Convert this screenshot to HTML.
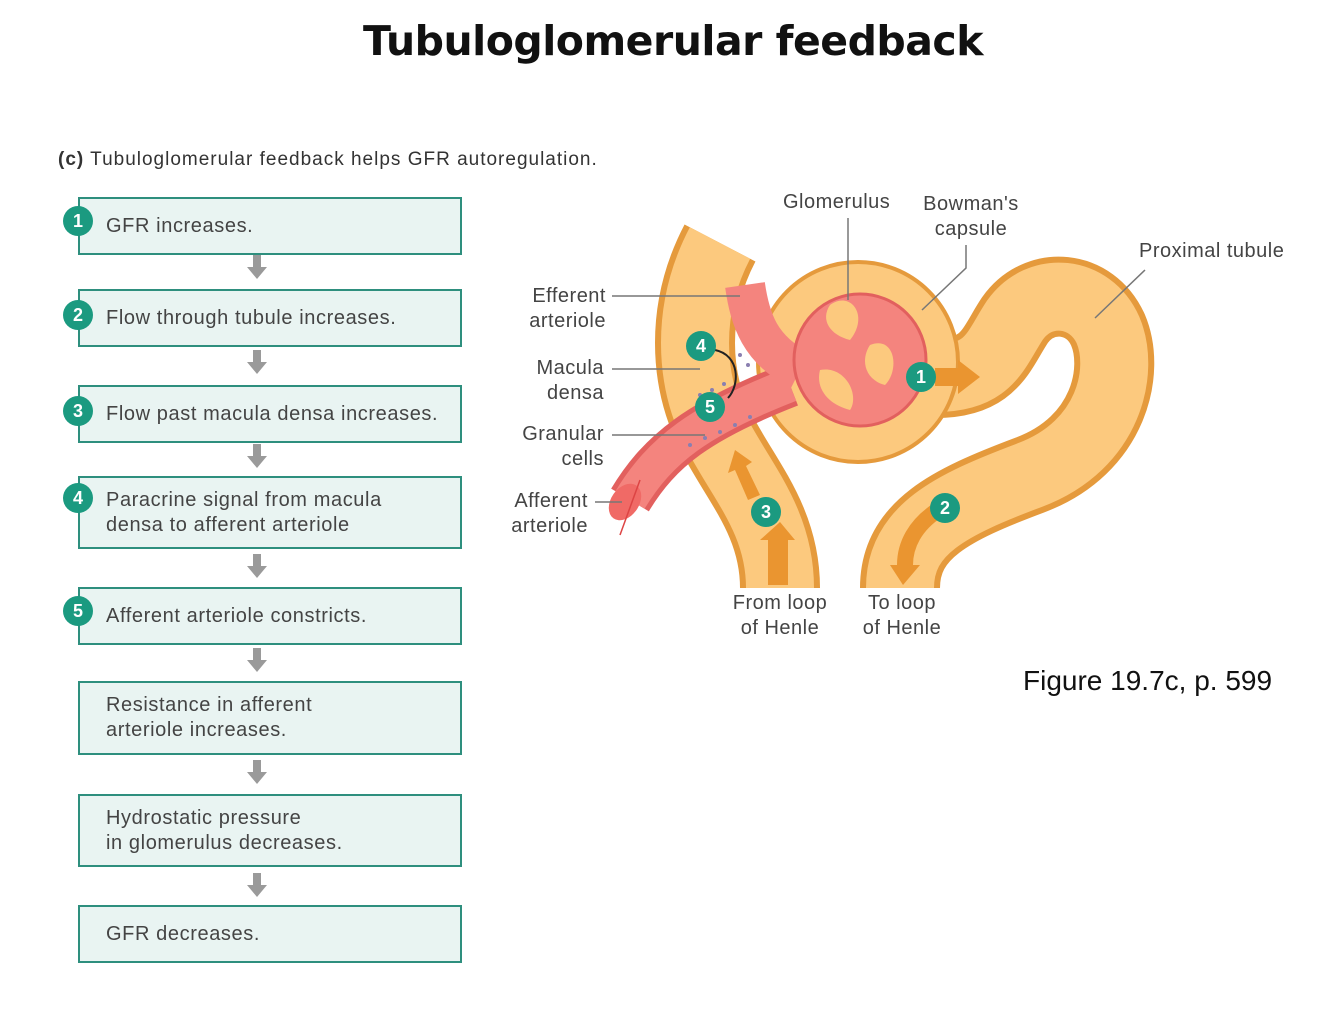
<!DOCTYPE html>
<html><head><meta charset="utf-8"><style>
body{margin:0;width:1334px;height:1029px;background:#fff;position:relative;overflow:hidden;font-family:"Liberation Sans",sans-serif}
.t{position:absolute;left:0;width:1346px;top:17px;text-align:center;font-size:41px;font-weight:bold;color:#111;font-family:"DejaVu Sans","Liberation Sans",sans-serif;letter-spacing:-0.5px}
.sub{position:absolute;left:58px;top:149px;font-size:19px;color:#333;letter-spacing:1px}
.box{position:absolute;left:78px;width:384px;border:2.5px solid #2e8f7e;background:#e9f4f2;color:#444;font-size:20px;box-sizing:border-box;padding-left:26px;display:flex;align-items:center;line-height:25px;letter-spacing:0.6px}
.b{position:absolute;width:30px;height:30px;border-radius:50%;background:#1b9a80;color:#fff;font-weight:bold;font-size:18px;text-align:center;line-height:30px}
.lab{position:absolute;font-size:20px;color:#444;line-height:25px;letter-spacing:0.5px}
.fig{position:absolute;left:1023px;top:665px;font-size:28px;color:#111}
</style></head><body>
<div class="t">Tubuloglomerular feedback</div>
<div class="sub"><b>(c)</b> Tubuloglomerular feedback helps GFR autoregulation.</div>

<div class="box" style="top:197px;height:58px">GFR increases.</div>
<div class="box" style="top:289px;height:58px">Flow through tubule increases.</div>
<div class="box" style="top:385px;height:58px">Flow past macula densa increases.</div>
<div class="box" style="top:476px;height:73px">Paracrine signal from macula<br>densa to afferent arteriole</div>
<div class="box" style="top:587px;height:58px">Afferent arteriole constricts.</div>
<div class="box" style="top:681px;height:74px">Resistance in afferent<br>arteriole increases.</div>
<div class="box" style="top:794px;height:73px">Hydrostatic pressure<br>in glomerulus decreases.</div>
<div class="box" style="top:905px;height:58px">GFR decreases.</div>

<div class="b" style="left:63px;top:206px">1</div>
<div class="b" style="left:63px;top:300px">2</div>
<div class="b" style="left:63px;top:396px">3</div>
<div class="b" style="left:63px;top:483px">4</div>
<div class="b" style="left:63px;top:596px">5</div>

<svg width="1334" height="1029" style="position:absolute;left:0;top:0" >
<defs><g id="ga"><rect x="-4" y="-12" width="8" height="12" fill="#9a9a9a"/><polygon points="-10,0 10,0 0,12" fill="#9a9a9a"/></g></defs>
<use href="#ga" x="257" y="267"/><use href="#ga" x="257" y="362"/><use href="#ga" x="257" y="456"/>
<use href="#ga" x="257" y="566"/><use href="#ga" x="257" y="660"/><use href="#ga" x="257" y="772"/><use href="#ga" x="257" y="885"/>

<g fill="none" stroke-linecap="butt">
<path d="M780 588 C780 520 740 480 715 430 C690 380 685 310 720 243" stroke="#e59a3c" stroke-width="80"/>
<path d="M780 588 C780 520 740 480 715 430 C690 380 685 310 720 243" stroke="#fcc97e" stroke-width="68"/>
<path d="M900 588 C900 530 950 505 1030 475 C1110 445 1125 370 1108 330 C1090 290 1040 285 1015 320 C995 350 990 380 930 378" stroke="#e59a3c" stroke-width="80"/>
<path d="M900 588 C900 530 950 505 1030 475 C1110 445 1125 370 1108 330 C1090 290 1040 285 1015 320 C995 350 990 380 930 378" stroke="#fcc97e" stroke-width="68"/>
</g>
<circle cx="858" cy="362" r="100" fill="#fcc97e" stroke="#e59a3c" stroke-width="4"/>
<path d="M630 500 C660 450 700 420 790 385" stroke="#e2605e" stroke-width="44" fill="none"/>
<path d="M630 500 C660 450 700 420 790 385" stroke="#f4847e" stroke-width="34" fill="none"/>
<path d="M745 285 C750 320 760 350 800 370" stroke="#f4847e" stroke-width="40" fill="none"/>
<ellipse cx="625" cy="502" rx="14" ry="20" fill="#f06a66" transform="rotate(35 625 502)"/>
<circle cx="860" cy="360" r="66" fill="#f4847e" stroke="#e2605e" stroke-width="3"/>
<path d="M830 305 C850 290 870 315 850 340 C830 335 820 320 830 305Z" fill="#fcc97e"/>
<path d="M870 345 C895 335 900 370 885 385 C865 380 860 360 870 345Z" fill="#fcc97e"/>
<path d="M820 370 C845 365 860 395 850 410 C830 405 815 390 820 370Z" fill="#fcc97e"/>
<g fill="#8a7fb0"><circle cx="700" cy="395" r="2"/><circle cx="712" cy="390" r="2"/><circle cx="724" cy="384" r="2"/><circle cx="740" cy="355" r="2"/><circle cx="748" cy="365" r="2"/><circle cx="690" cy="445" r="2"/><circle cx="705" cy="438" r="2"/><circle cx="720" cy="432" r="2"/><circle cx="735" cy="425" r="2"/><circle cx="750" cy="417" r="2"/></g>
<path d="M715 350 C740 355 740 385 728 398" stroke="#222" stroke-width="2" fill="none"/>
<path d="M620 535 L640 480" stroke="#d44" stroke-width="1.5"/>
<polygon points="935,368 958,368 958,360 980,377 958,394 958,386 935,386" fill="#ea9530"/>
<polygon points="768,585 768,540 760,540 780,522 795,540 788,540 788,585" fill="#ea9530"/>
<polygon points="748,500 735,470 728,473 735,450 752,462 746,466 760,495" fill="#ea9530"/>
<path d="M938 510 C915 525 905 545 905 565" stroke="#ea9530" stroke-width="16" fill="none"/>
<polygon points="890,565 920,565 903,585" fill="#ea9530"/>
<g stroke="#777" stroke-width="1.5">
<line x1="612" y1="296" x2="740" y2="296"/><line x1="612" y1="369" x2="700" y2="369"/><line x1="612" y1="435" x2="705" y2="435"/><line x1="595" y1="502" x2="622" y2="502"/>
<line x1="848" y1="218" x2="848" y2="300"/><polyline points="966,245 966,268 922,310" fill="none"/><line x1="1145" y1="270" x2="1095" y2="318"/>
</g>
</svg>
<div class="b" style="left:686px;top:331px">4</div>
<div class="b" style="left:695px;top:392px">5</div>
<div class="b" style="left:906px;top:362px">1</div>
<div class="b" style="left:751px;top:497px">3</div>
<div class="b" style="left:930px;top:493px">2</div>

<div class="lab" style="left:500px;top:284px;text-align:right;width:106px">Efferent<br>arteriole</div>
<div class="lab" style="left:500px;top:356px;text-align:right;width:104px">Macula<br>densa</div>
<div class="lab" style="left:490px;top:422px;text-align:right;width:114px">Granular<br>cells</div>
<div class="lab" style="left:480px;top:489px;text-align:right;width:108px">Afferent<br>arteriole</div>
<div class="lab" style="left:783px;top:190px">Glomerulus</div>
<div class="lab" style="left:910px;top:192px;text-align:center;width:122px">Bowman's<br>capsule</div>
<div class="lab" style="left:1139px;top:239px">Proximal tubule</div>
<div class="lab" style="left:720px;top:591px;text-align:center;width:120px">From loop<br>of Henle</div>
<div class="lab" style="left:842px;top:591px;text-align:center;width:120px">To loop<br>of Henle</div>
<div class="fig">Figure 19.7c, p. 599</div>
</body></html>
